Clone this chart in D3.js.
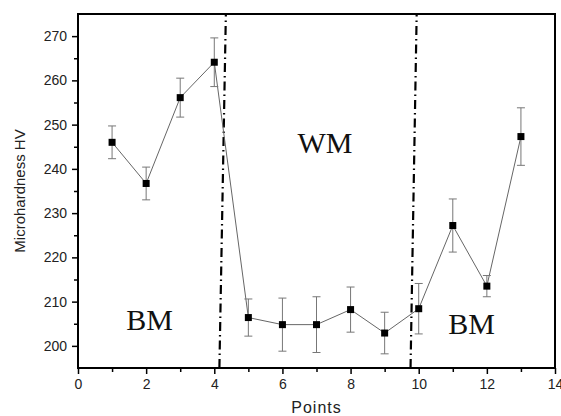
<!DOCTYPE html>
<html>
<head>
<meta charset="utf-8">
<script src="https://cdn.jsdelivr.net/npm/d3@7"></script>
<style>
  body { margin: 0; background: #fff; }
  svg { display: block; }
  .tick text { font-family: Arial, "Liberation Sans", sans-serif; font-size: 14px; fill: #222; }
</style>
</head>
<body>
<svg width="561" height="416"></svg>
<script>
const points = [1, 2, 3, 4, 5, 6, 7, 8, 9, 10, 11, 12, 13];
const hardness = [246.0, 236.7, 256.1, 264.1, 206.4, 204.8, 204.8, 208.2, 202.9, 208.4, 227.2, 213.5, 247.3];
const errors = [3.7, 3.7, 4.4, 5.5, 4.2, 6.0, 6.3, 5.1, 4.7, 5.7, 6.0, 2.4, 6.5];
const xTicks = [0, 2, 4, 6, 8, 10, 12, 14];
const yTicks = [200, 210, 220, 230, 240, 250, 260, 270];
// zone boundaries (slightly slanted dash-dot lines): [x at bottom, x at top]
const boundaries = [[4.15, 4.34], [9.76, 9.94]];
const zones = [
  { label: "BM", x: 2.1, y: 203.5 },
  { label: "WM", x: 7.25, y: 243.6 },
  { label: "BM", x: 11.55, y: 202.6 }
];

const svg = d3.select("svg");
const margin = { top: 14, right: 6, bottom: 48, left: 78 };
const width = 561 - margin.left - margin.right;
const height = 416 - margin.top - margin.bottom;

const x = d3.scaleLinear().domain([0, 14]).range([0, width]);
const y = d3.scaleLinear().domain([195, 275]).range([height, 0]);

const g = svg.append("g").attr("transform", `translate(${margin.left},${margin.top})`);

// minor ticks
g.append("g")
  .attr("transform", `translate(0,${height})`)
  .call(d3.axisBottom(x).tickValues(d3.range(1, 14, 2)).tickSize(4).tickFormat(""))
  .call(a => a.select(".domain").remove())
  .selectAll("line").attr("stroke", "#000").attr("stroke-width", 1.5);
g.append("g")
  .call(d3.axisLeft(y).tickValues(d3.range(205, 275, 10)).tickSize(4).tickFormat(""))
  .call(a => a.select(".domain").remove())
  .selectAll("line").attr("stroke", "#000").attr("stroke-width", 1.5);

// major ticks
const xAxis = g.append("g")
  .attr("transform", `translate(0,${height})`)
  .call(d3.axisBottom(x).tickValues(xTicks).tickSize(6).tickPadding(5))
  .call(a => a.select(".domain").remove());
xAxis.selectAll("line").attr("stroke", "#000").attr("stroke-width", 1.5);

const yAxis = g.append("g")
  .call(d3.axisLeft(y).tickValues(yTicks).tickSize(6).tickPadding(5))
  .call(a => a.select(".domain").remove());
yAxis.selectAll("line").attr("stroke", "#000").attr("stroke-width", 1.5);

// frame
g.append("rect")
  .attr("width", width).attr("height", height)
  .attr("fill", "none").attr("stroke", "#000").attr("stroke-width", 2);

// zone boundaries
g.selectAll(".boundary")
  .data(boundaries).enter().append("line")
  .attr("class", "boundary")
  .attr("x1", d => x(d[0])).attr("y1", height)
  .attr("x2", d => x(d[1])).attr("y2", 0)
  .attr("stroke", "#000").attr("stroke-width", 2.2)
  .attr("stroke-dasharray", "9,4,1.5,4");

// zone labels
g.selectAll(".zone")
  .data(zones).enter().append("text")
  .attr("class", "zone")
  .attr("x", d => x(d.x)).attr("y", d => y(d.y))
  .attr("text-anchor", "middle")
  .attr("font-family", "'Liberation Serif', 'Times New Roman', serif")
  .attr("font-size", 30)
  .attr("fill", "#111")
  .text(d => d.label);

const data = points.map((p, i) => ({ p, v: hardness[i], e: errors[i] }));

// connecting line
g.append("path")
  .datum(data)
  .attr("fill", "none").attr("stroke", "#666").attr("stroke-width", 1)
  .attr("d", d3.line().x(d => x(d.p)).y(d => y(d.v)));

// error bars
const eb = g.selectAll(".err").data(data).enter().append("g").attr("class", "err")
  .attr("stroke", "#777").attr("stroke-width", 1);
eb.append("line")
  .attr("x1", d => x(d.p)).attr("x2", d => x(d.p))
  .attr("y1", d => y(d.v - d.e)).attr("y2", d => y(d.v + d.e));
eb.append("line")
  .attr("x1", d => x(d.p) - 4).attr("x2", d => x(d.p) + 4)
  .attr("y1", d => y(d.v + d.e)).attr("y2", d => y(d.v + d.e));
eb.append("line")
  .attr("x1", d => x(d.p) - 4).attr("x2", d => x(d.p) + 4)
  .attr("y1", d => y(d.v - d.e)).attr("y2", d => y(d.v - d.e));

// markers
g.selectAll(".pt").data(data).enter().append("rect")
  .attr("class", "pt")
  .attr("x", d => x(d.p) - 3.5).attr("y", d => y(d.v) - 3.5)
  .attr("width", 7).attr("height", 7)
  .attr("fill", "#000");

// axis titles
svg.append("text")
  .attr("x", margin.left + width / 2).attr("y", 413)
  .attr("text-anchor", "middle")
  .attr("font-family", "Arial, 'Liberation Sans', sans-serif")
  .attr("font-size", 16).attr("letter-spacing", 1)
  .attr("fill", "#222")
  .text("Points");

svg.append("text")
  .attr("transform", `translate(25,${margin.top + height / 2}) rotate(-90)`)
  .attr("text-anchor", "middle")
  .attr("font-family", "Arial, 'Liberation Sans', sans-serif")
  .attr("font-size", 15)
  .attr("fill", "#222")
  .text("Microhardness HV");
</script>
</body>
</html>
